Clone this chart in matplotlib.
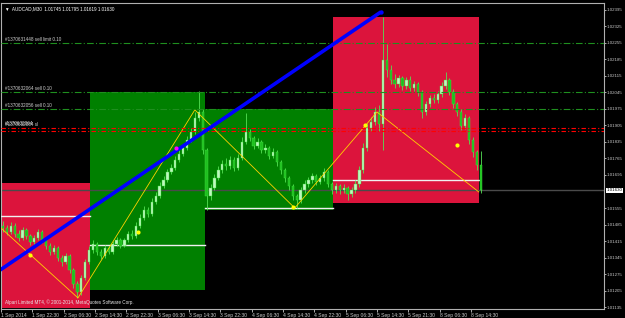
import matplotlib
matplotlib.use('Agg')
import matplotlib.pyplot as plt
from matplotlib.patches import Rectangle
import numpy as np

plt.rcParams['font.family'] = ['Liberation Sans', 'DejaVu Sans']

# hourly candles (two M30 slots each), AUDCAD 1-8 Sep 2014
first_open = 1.01480
closes = [1.01470, 1.01453, 1.01479, 1.01445, 1.01428, 1.01462, 1.01436, 1.01411, 1.01428, 1.01453,
          1.01419, 1.01394, 1.01369, 1.01385, 1.01343, 1.01326, 1.01352, 1.01292, 1.01233, 1.01199,
          1.01258, 1.01326, 1.01377, 1.01402, 1.01369, 1.01352, 1.01385, 1.01369, 1.01402, 1.01419,
          1.01394, 1.01419, 1.01445, 1.01436, 1.01479, 1.01513, 1.01547, 1.01530, 1.01581, 1.01606,
          1.01648, 1.01674, 1.01708, 1.01725, 1.01759, 1.01784, 1.01810, 1.01843, 1.01877, 1.01937,
          1.01962, 1.01801, 1.01606, 1.01640, 1.01682, 1.01716, 1.01742, 1.01733, 1.01759, 1.01725,
          1.01767, 1.01835, 1.01877, 1.01852, 1.01818, 1.01835, 1.01801, 1.01810, 1.01776, 1.01793,
          1.01750, 1.01716, 1.01682, 1.01648, 1.01606, 1.01589, 1.01631, 1.01657, 1.01674, 1.01691,
          1.01665, 1.01682, 1.01708, 1.01657, 1.01631, 1.01648, 1.01631, 1.01640, 1.01614, 1.01631,
          1.01657, 1.01716, 1.01810, 1.01894, 1.01920, 1.01962, 1.01911, 1.02183, 1.02140, 1.02098,
          1.02081, 1.02106, 1.02072, 1.02098, 1.02064, 1.02081, 1.02047, 1.01962, 1.01996, 1.02021,
          1.02013, 1.02038, 1.02072, 1.02098, 1.02047, 1.01996, 1.01962, 1.01903, 1.01937, 1.01843,
          1.01793, 1.01737, 1.01630]
highs = [1.01498, 1.01485, 1.01495, 1.01490, 1.01460, 1.01475, 1.01470, 1.01445, 1.01440, 1.01468,
         1.01460, 1.01428, 1.01405, 1.01400, 1.01392, 1.01355, 1.01366, 1.01360, 1.01300, 1.01245,
         1.01270, 1.01340, 1.01392, 1.01418, 1.01410, 1.01380, 1.01398, 1.01395, 1.01415, 1.01432,
         1.01428, 1.01430, 1.01458, 1.01462, 1.01495, 1.01528, 1.01565, 1.01560, 1.01598, 1.01625,
         1.01665, 1.01690, 1.01722, 1.01742, 1.01775, 1.01800, 1.01828, 1.01860, 1.01895, 1.01960,
         1.02050, 1.01975, 1.01810, 1.01655, 1.01698, 1.01735, 1.01760, 1.01765, 1.01775, 1.01770,
         1.01785, 1.01855, 1.01958, 1.01890, 1.01862, 1.01850, 1.01845, 1.01825, 1.01818, 1.01808,
         1.01800, 1.01760, 1.01725, 1.01690, 1.01655, 1.01615, 1.01645, 1.01672, 1.01688, 1.01705,
         1.01700, 1.01696, 1.01725, 1.01715, 1.01665, 1.01662, 1.01658, 1.01655, 1.01648, 1.01645,
         1.01672, 1.01735, 1.01830, 1.01915, 1.01940, 1.01985, 1.01990, 1.02365, 1.02250, 1.02160,
         1.02125, 1.02120, 1.02115, 1.02110, 1.02115, 1.02095, 1.02090, 1.02055, 1.02010, 1.02035,
         1.02040, 1.02052, 1.02088, 1.02130, 1.02105, 1.02060, 1.02005, 1.01975, 1.01955, 1.01945,
         1.01855, 1.01800, 1.01795]
lows = [1.01455, 1.01440, 1.01445, 1.01432, 1.01415, 1.01420, 1.01425, 1.01398, 1.01402, 1.01420,
        1.01408, 1.01380, 1.01355, 1.01358, 1.01330, 1.01310, 1.01318, 1.01280, 1.01215, 1.01174,
        1.01185, 1.01250, 1.01318, 1.01365, 1.01355, 1.01338, 1.01345, 1.01358, 1.01362, 1.01395,
        1.01385, 1.01388, 1.01410, 1.01425, 1.01430, 1.01470, 1.01505, 1.01518, 1.01522, 1.01570,
        1.01598, 1.01640, 1.01665, 1.01700, 1.01715, 1.01750, 1.01775, 1.01800, 1.01835, 1.01870,
        1.01925, 1.01785, 1.01547, 1.01590, 1.01630, 1.01672, 1.01705, 1.01718, 1.01722, 1.01712,
        1.01718, 1.01760, 1.01825, 1.01840, 1.01805, 1.01808, 1.01788, 1.01790, 1.01762, 1.01768,
        1.01735, 1.01700, 1.01665, 1.01630, 1.01590, 1.01555, 1.01578, 1.01620, 1.01645, 1.01660,
        1.01652, 1.01655, 1.01670, 1.01645, 1.01615, 1.01620, 1.01615, 1.01620, 1.01590, 1.01600,
        1.01618, 1.01645, 1.01705, 1.01795, 1.01880, 1.01905, 1.01880, 1.01800, 1.02110, 1.02080,
        1.02065, 1.02070, 1.02055, 1.02060, 1.02050, 1.02050, 1.02030, 1.01935, 1.01950, 1.01985,
        1.01998, 1.02000, 1.02025, 1.02060, 1.02035, 1.01980, 1.01945, 1.01885, 1.01890, 1.01825,
        1.01770, 1.01715, 1.01619]

# rectangles (time in M30 bar index, prices)
box_left = [0, 45.5, 104.2, 169.6]
box_right = [45.5, 104.2, 169.6, 244.1]
box_top = [1.01661, 1.02047, 1.01975, 1.02365]
box_bottom = [1.01131, 1.01207, 1.01547, 1.01576]
box_mid = [1.01521, 1.01398, 1.01555, 1.01674]
box_colors = ['#dc143c', '#008000', '#008000', '#dc143c']

# order lines
order_prices = [1.02255, 1.02045, 1.01975]
order_labels = ['#1370631448 sell limit 0.10', '#1370632064 sell 0.10', '#1370632056 sell 0.10']
sl_prices = [1.01895, 1.01882]

# zigzag and markers
zz_idx = [0, 39.3, 99, 150, 192, 244]
zz_price = [1.01470, 1.01174, 1.01971, 1.01555, 1.01962, 1.01623]
dot_idx = [14.8, 70, 149, 186, 233]
dot_price = [1.01356, 1.01453, 1.01559, 1.01907, 1.01822]
trend_idx = [-0.5, 194]
trend_price = [1.01292, 1.02386]

current = 1.01630
y_ticks = [1.02395, 1.02325, 1.02255, 1.02185, 1.02115, 1.02045, 1.01975, 1.01905, 1.01835,
           1.01765, 1.01695, 1.01555, 1.01485, 1.01415, 1.01345, 1.01275, 1.01205, 1.01135]
x_labels = ['1 Sep 2014', '1 Sep 22:30', '2 Sep 06:30', '2 Sep 14:30', '2 Sep 22:30', '3 Sep 06:30',
            '3 Sep 14:30', '3 Sep 22:30', '4 Sep 06:30', '4 Sep 14:30', '4 Sep 22:30', '5 Sep 06:30',
            '5 Sep 14:30', '5 Sep 21:30', '8 Sep 06:30', '8 Sep 14:30']

fig = plt.figure(figsize=(6.25, 3.18), dpi=100, facecolor='black')
ax = fig.add_axes([0.0016, 0.0283, 0.965, 0.9623])
ax.set_facecolor('black')
ax.set_xlim(0, 308)
ax.set_ylim(1.01127, 1.02424)

for l, r, t, b, m, c in zip(box_left, box_right, box_top, box_bottom, box_mid, box_colors):
    ax.add_patch(Rectangle((l, b), r - l, t - b, facecolor=c, edgecolor='none', zorder=1))
    ax.plot([l, r], [m, m], color='#f0f0f0', lw=1.0, zorder=3)

ax.axhline(current, color='#4a4a4a', lw=1.0, zorder=2)

opens = [first_open] + closes[:-1]
xs = np.arange(len(closes)) * 2 + 1
ax.vlines(xs, lows, highs, color='#55e055', lw=0.6, zorder=4)
for x, o, c in zip(xs, opens, closes):
    col = '#c0f7c0' if c >= o else '#1fbf1f'
    ax.add_patch(Rectangle((x - 0.6, min(o, c)), 1.2, max(abs(c - o), 0.00003),
                           facecolor=col, edgecolor='#40e040', lw=0.3, zorder=5))

ax.plot(zz_idx, zz_price, color='#ffd200', lw=0.6, zorder=6)
ax.plot(trend_idx, trend_price, color='#0000ff', lw=2.6, zorder=7, solid_capstyle='butt')
ax.scatter(dot_idx, dot_price, s=9, color='#ffff00', zorder=8, linewidths=0)
ax.scatter([89.4], [1.01810], s=9, color='#ff00ff', zorder=8, linewidths=0)
ax.scatter([trend_idx[1]], [trend_price[1]], s=10, color='#0000ff', zorder=8, linewidths=0)

small = 3.3
for p, lab in zip(order_prices, order_labels):
    ax.axhline(p, color='#1f8f1f', lw=0.8, ls=(0, (6, 2, 1, 2)), zorder=6)
    ax.text(2, p + 0.00004, lab, color='#d0d0d0', fontsize=small, va='bottom', zorder=9)
for p in sl_prices:
    ax.axhline(p, color='#ff0000', lw=0.8, ls=(0, (4, 2, 1, 2)), zorder=6)
ax.text(2, sl_prices[0] + 0.00008, '#1370632064', color='#d0d0d0', fontsize=small, va='bottom', zorder=9)
ax.text(2, sl_prices[0] + 0.00002, '#1370632064 sl', color='#d0d0d0', fontsize=small, va='bottom', zorder=9)

ax.text(0.006, 0.988, '\u25bc  AUDCAD,M30  1.01745 1.01795 1.01619 1.01630', transform=ax.transAxes,
        color='white', fontsize=3.3, va='top', ha='left')
ax.text(0.006, 0.012, 'Alpari Limited MT4, \u00a9 2001-2014, MetaQuotes Software Corp.', transform=ax.transAxes,
        color='#e8e8e8', fontsize=3.3, va='bottom', ha='left', zorder=9)

ax.yaxis.tick_right()
ax.set_yticks(y_ticks)
ax.set_yticklabels([f'{v:.5f}' for v in y_ticks])
ax.set_xticks(np.arange(len(x_labels)) * 16)
ax.set_xticklabels(x_labels, ha='left')
ax.tick_params(colors='#c8c8c8', labelsize=3.6, length=2, width=0.6, pad=0.8)
ax.tick_params(axis='y', labelsize=3.2, length=1.5, pad=0.6)
for s in ax.spines.values():
    s.set_color('#b0b0b0')
    s.set_linewidth(0.8)

ax.annotate(f'{current:.5f}', xy=(1, current), xycoords=('axes fraction', 'data'),
            xytext=(1.6, 0), textcoords='offset points', fontsize=3.2, color='black', va='center',
            bbox=dict(boxstyle='square,pad=0.12', facecolor='white', edgecolor='none'))

fig.savefig('out.png', dpi=100, facecolor='black')
